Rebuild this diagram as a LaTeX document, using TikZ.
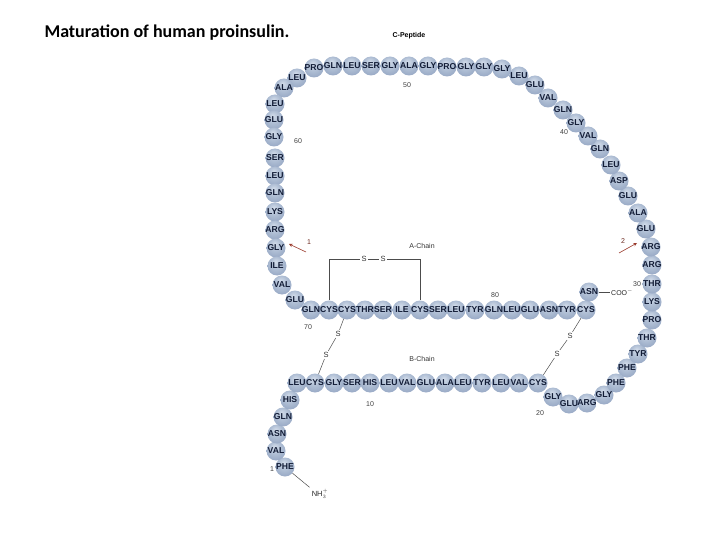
\documentclass[tikz,border=0pt]{standalone}
\usepackage{fontspec}
\setmainfont{Liberation Sans}
\newfontfamily\titlefont{Carlito}

\definecolor{beadhi}{HTML}{D2DCEA}
\definecolor{beadmid}{HTML}{AFBED4}
\definecolor{beadlo}{HTML}{8598B9}
\definecolor{aatext}{HTML}{121C36}
\definecolor{cutred}{HTML}{9A3A2C}
\pgfdeclareradialshading{bead}{\pgfpoint{-4bp}{12bp}}{color(0bp)=(beadhi); color(16bp)=(beadmid); color(42bp)=(beadlo); color(50bp)=(beadlo!90!black)}

% number/amino acid/x/y of proinsulin
\def\residues{1/PHE/285/467, 2/VAL/276/451, 3/ASN/277/434, 4/GLN/283/417, 5/HIS/290/400,
  6/LEU/297/383, 7/CYS/315/383, 8/GLY/334/383, 9/SER/352/383, 10/HIS/370/383,
  11/LEU/389/383, 12/VAL/407/383, 13/GLU/426/383, 14/ALA/445/383, 15/LEU/463/383,
  16/TYR/482/383, 17/LEU/501/383, 18/VAL/519/383, 19/CYS/538/383, 20/GLY/553/397,
  21/GLU/569/404, 22/ARG/587/403, 23/GLY/604/395, 24/PHE/616/383, 25/PHE/627/368,
  26/TYR/638/354, 27/THR/647/338, 28/PRO/652/320, 29/LYS/652/302, 30/THR/652/284,
  31/ARG/652/265, 32/ARG/651/247, 33/GLU/646/229, 34/ALA/638/213, 35/GLU/628/196,
  36/ASP/619/181, 37/LEU/611/165, 38/GLN/600/149, 39/VAL/588/136, 40/GLY/576/123,
  41/GLN/563/110, 42/VAL/548/98, 43/GLU/535/85, 44/LEU/519/76, 45/GLY/502/69,
  46/GLY/484/67, 47/GLY/466/67, 48/PRO/447/67, 49/GLY/428/66, 50/ALA/409/66,
  51/GLY/390/66, 52/SER/371/66, 53/LEU/352/66, 54/GLN/333/66, 55/PRO/314/68,
  56/LEU/297/78, 57/ALA/284/88, 58/LEU/275/104, 59/GLU/274/120, 60/GLY/274/137,
  61/SER/275/158, 62/LEU/275/176, 63/GLN/275/193, 64/LYS/275/212, 65/ARG/275/230,
  66/GLY/276/248, 67/ILE/277/266, 68/VAL/282/285, 69/GLU/295/300, 70/GLN/311/310,
  71/CYS/329/310, 72/CYS/347/310, 73/THR/365/310, 74/SER/383/310, 75/ILE/402/310,
  76/CYS/420/310, 77/SER/438/310, 78/LEU/456/310, 79/TYR/475/310, 80/GLN/494/310,
  81/LEU/512/310, 82/GLU/530/310, 83/ASN/549/310, 84/TYR/567/310, 85/CYS/586/310,
  86/ASN/589/292}

\begin{document}
\begin{tikzpicture}[x=1pt,y=-1pt,
		residue/.style={circle,minimum size=19pt,inner sep=0pt,shading=bead},
		aa/.style={font=\fontsize{8.6}{8.6}\selectfont\bfseries,text=aatext,inner sep=0pt},
		num/.style={font=\fontsize{7}{7}\selectfont,text=black!75,inner sep=1pt},
		sulfur/.style={font=\fontsize{7.5}{7.5}\selectfont,text=black!80,inner sep=1.2pt},
		bond/.style={draw=black!70,line width=0.5pt},
		cut/.style={draw=cutred,line width=0.6pt,-stealth}]
		
		\useasboundingbox (0,0) rectangle (720,540);
		
		\node[font=\titlefont\bfseries\fontsize{18}{20}\selectfont,anchor=west] (title) at (41,33) {Maturation of human proinsulin.};
		
		%beads
		\foreach \n/\aa/\x/\y in \residues
		{
			\node[residue] (r\n) at (\x,\y) {};
		}
		\foreach \n/\aa/\x/\y in \residues
		{
			\node[aa] (t\n) at (r\n) {\aa};
		}
		
		%numbering
		\foreach \i/\x/\y in {1/272/469,10/370/404,20/540/413,30/637/284,40/564/132,50/407/85,60/298/141,70/308/327,80/495/295}
		{
			\node[num] (n\i) at (\x,\y) {\i};
		}
		
		\node[font=\bfseries\fontsize{7}{7}\selectfont] (cpep) at (409,36) {C-Peptide};
		\node[num,text=black!80] (achain) at (422,246) {A-Chain};
		\node[num,text=black!80] (bchain) at (422,359) {B-Chain};
		
		%disulfide bridges
		\node[sulfur] (sa1) at (364,259) {S};
		\node[sulfur] (sa2) at (383,259) {S};
		\draw[bond] (r71.north) |- (sa1.west);
		\draw[bond] (sa1) -- (sa2);
		\draw[bond] (sa2.east) -| (r76.north);
		
		\node[sulfur] (sb1) at (338,334) {S};
		\node[sulfur] (sb2) at (326,355) {S};
		\draw[bond] (r72) -- (sb1) -- (sb2) -- (r7);
		
		\node[sulfur] (sc1) at (570,336) {S};
		\node[sulfur] (sc2) at (557,354) {S};
		\draw[bond] (r85) -- (sc1) -- (sc2) -- (r19);
		
		%ends
		\node[num,text=black!85,anchor=west] (coo) at (610,292) {COO$^-$};
		\draw[bond] (r86) -- (coo);
		\node[font=\fontsize{7.5}{7.5}\selectfont,text=black!85,inner sep=2pt] (nh) at (320,494) {NH$_3^+$};
		\draw[bond] (r1) -- (nh.north west);
		
		%cleavage sites
		\coordinate (tail1) at (306,252);
		\coordinate (tip1) at (289,244);
		\draw[cut] (tail1) -- (tip1);
		\node[num,text=cutred!70!black] (cut1) at (309,242) {1};
		\coordinate (tail2) at (619,253);
		\coordinate (tip2) at (637,243);
		\draw[cut] (tail2) -- (tip2);
		\node[num,text=cutred!70!black] (cut2) at (623,241) {2};
		
	\end{tikzpicture}
\end{document}
